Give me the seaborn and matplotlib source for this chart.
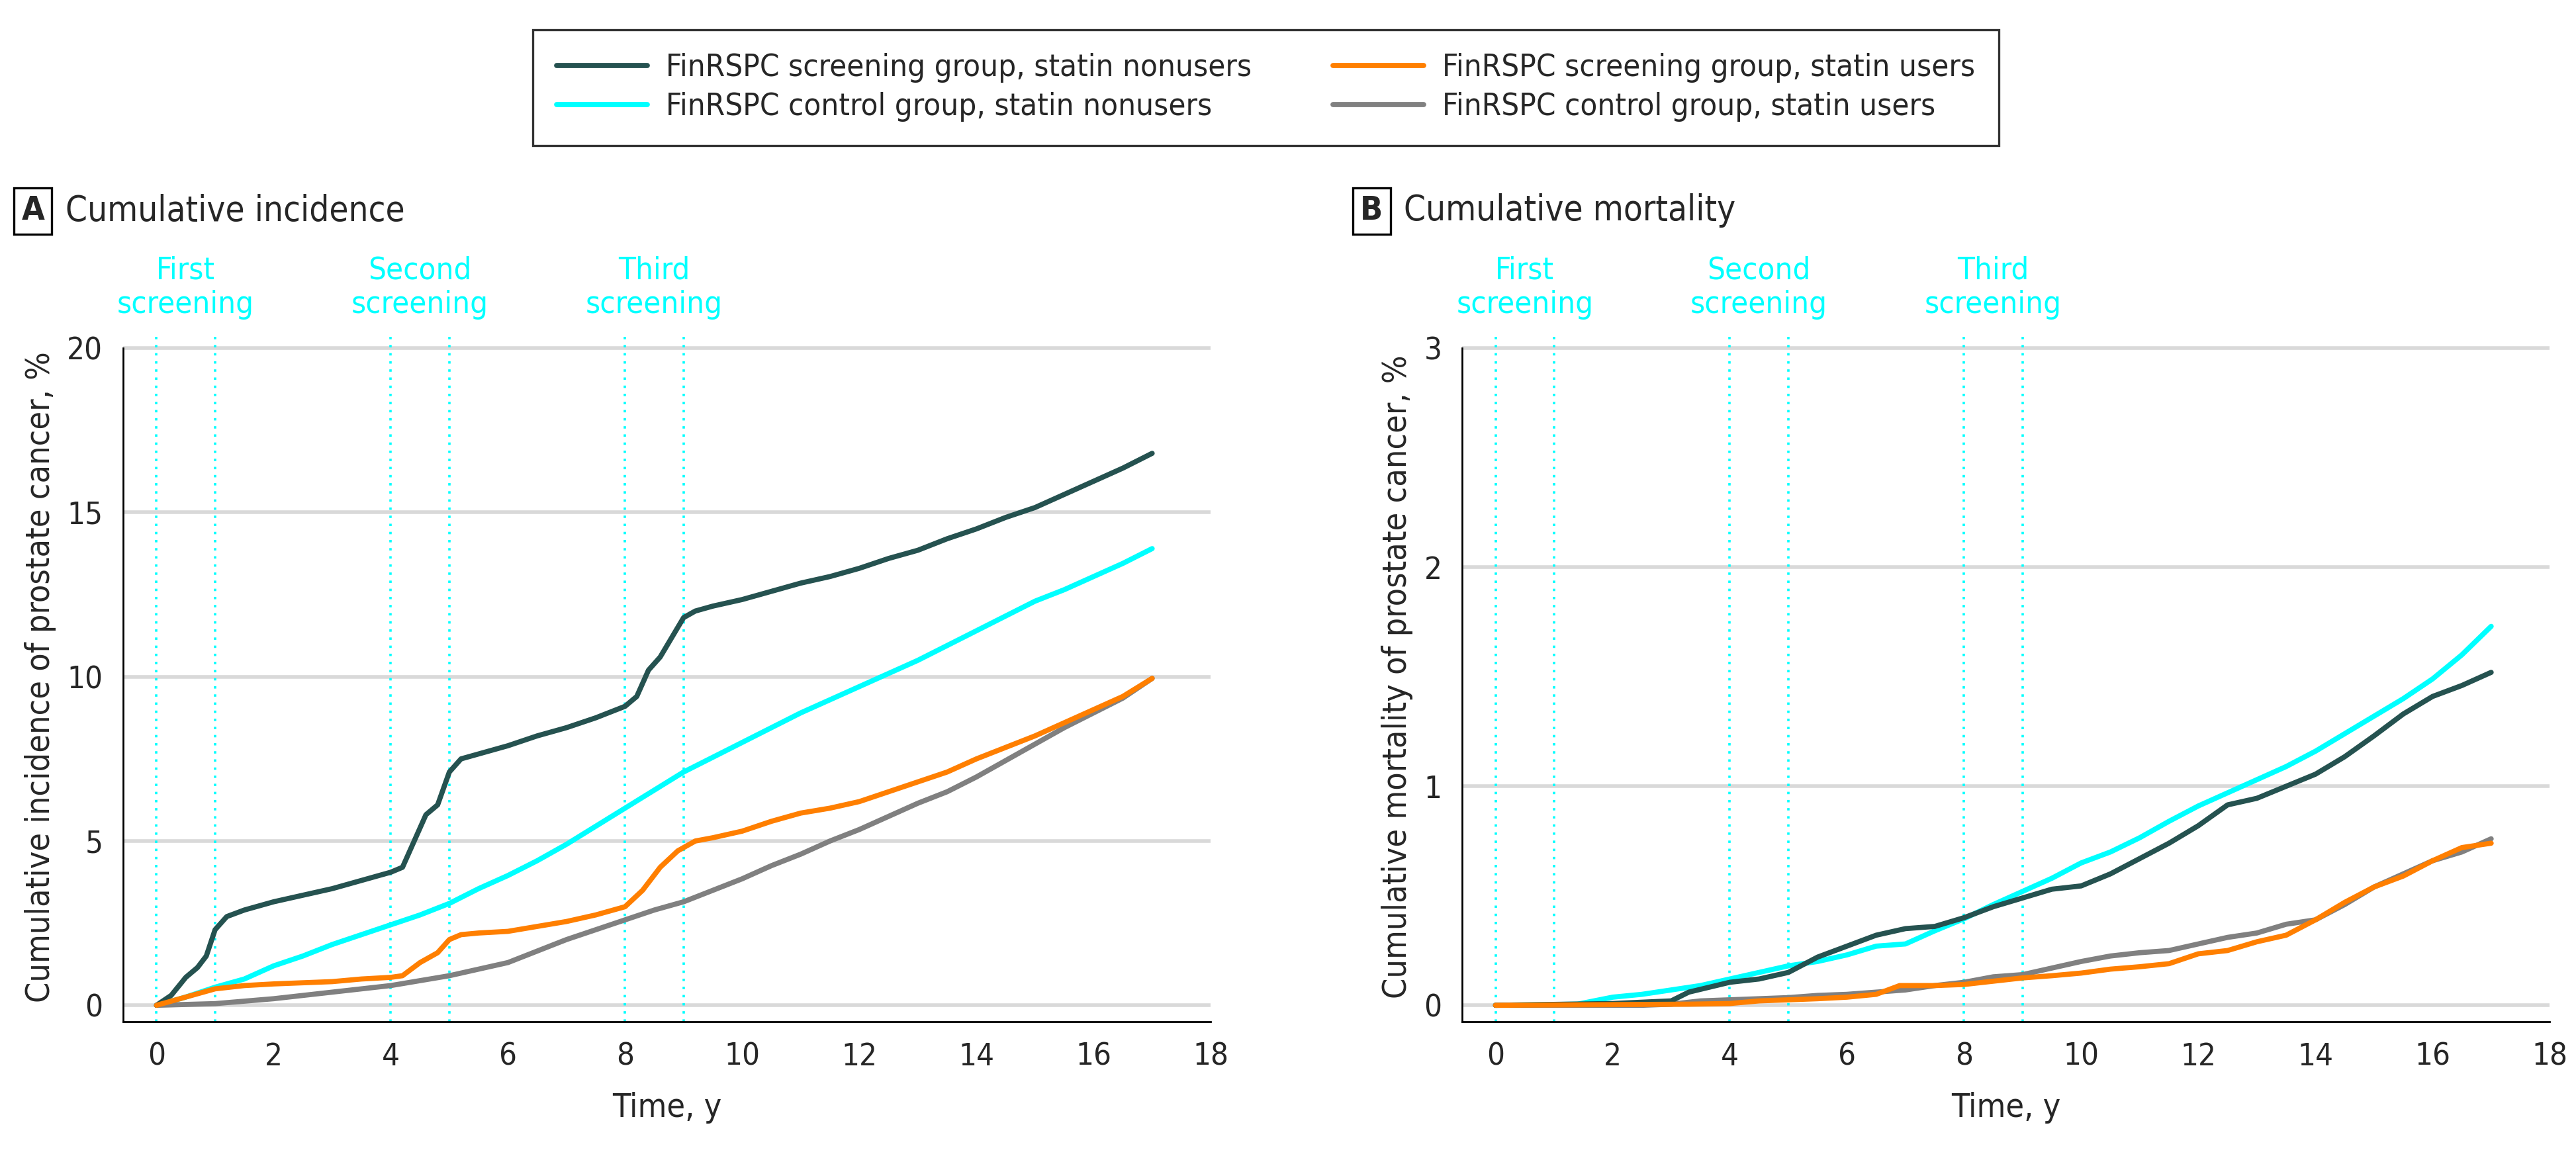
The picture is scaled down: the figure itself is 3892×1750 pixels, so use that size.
#%% Imports
import numpy as np
import pandas as pd
import matplotlib
matplotlib.use("Agg")
import matplotlib.pyplot as plt
import matplotlib.transforms as mtransforms
from matplotlib import font_manager
import seaborn as sns

#%% Data
# panel A, cumulative incidence (%)
t_scr_non_A = [0, 0.25, 0.5, 0.7, 0.85, 1.0, 1.2, 1.5, 2, 2.5, 3, 3.5, 4, 4.2, 4.4, 4.6, 4.8, 5.0, 5.2, 5.5,
               6, 6.5, 7, 7.5, 8, 8.2, 8.4, 8.6, 8.8, 9, 9.2, 9.5, 10, 10.5, 11, 11.5, 12, 12.5, 13,
               13.5, 14, 14.5, 15, 15.5, 16, 16.5, 17]
v_scr_non_A = [0, 0.3, 0.85, 1.15, 1.5, 2.3, 2.7, 2.9, 3.15, 3.35, 3.55, 3.8, 4.05, 4.2, 5.0, 5.8, 6.1, 7.1, 7.5, 7.65,
               7.9, 8.2, 8.45, 8.75, 9.1, 9.4, 10.2, 10.6, 11.2, 11.8, 12.0, 12.15, 12.35, 12.6, 12.85, 13.05, 13.3, 13.6, 13.85,
               14.2, 14.5, 14.85, 15.15, 15.55, 15.95, 16.35, 16.8]

t_ctl_non_A = [0, 0.5, 1, 1.5, 2, 2.5, 3, 3.5, 4, 4.5, 5, 5.5, 6, 6.5, 7, 7.5, 8, 8.5, 9, 9.5, 10,
               10.5, 11, 11.5, 12, 12.5, 13, 13.5, 14, 14.5, 15, 15.5, 16, 16.5, 17]
v_ctl_non_A = [0, 0.25, 0.55, 0.8, 1.2, 1.5, 1.85, 2.15, 2.45, 2.75, 3.1, 3.55, 3.95, 4.4, 4.9, 5.45, 6.0, 6.55, 7.1, 7.55, 8.0,
               8.45, 8.9, 9.3, 9.7, 10.1, 10.5, 10.95, 11.4, 11.85, 12.3, 12.65, 13.05, 13.45, 13.9]

t_scr_usr_A = [0, 0.5, 1, 1.5, 2, 3, 3.5, 4, 4.2, 4.5, 4.8, 5.0, 5.2, 5.5, 6, 6.5, 7, 7.5, 8, 8.3, 8.6, 8.9,
               9.2, 9.5, 10, 10.5, 11, 11.5, 12, 12.5, 13, 13.5, 14, 14.5, 15, 15.5, 16, 16.5, 17]
v_scr_usr_A = [0, 0.25, 0.5, 0.6, 0.65, 0.72, 0.8, 0.85, 0.9, 1.3, 1.6, 2.0, 2.15, 2.2, 2.25, 2.4, 2.55, 2.75, 3.0, 3.5, 4.2, 4.7,
               5.0, 5.1, 5.3, 5.6, 5.85, 6.0, 6.2, 6.5, 6.8, 7.1, 7.5, 7.85, 8.2, 8.6, 9.0, 9.4, 9.95]

t_ctl_usr_A = [0, 1, 2, 3, 4, 5, 5.5, 6, 6.5, 7, 7.5, 8, 8.5, 9, 9.5, 10, 10.5, 11, 11.5, 12, 12.5,
               13, 13.5, 14, 14.5, 15, 15.5, 16, 16.5, 17]
v_ctl_usr_A = [0, 0.05, 0.2, 0.4, 0.6, 0.9, 1.1, 1.3, 1.65, 2.0, 2.3, 2.6, 2.9, 3.15, 3.5, 3.85, 4.25, 4.6, 5.0, 5.35, 5.75,
               6.15, 6.5, 6.95, 7.45, 7.95, 8.45, 8.9, 9.35, 9.95]

# panel B, cumulative mortality (%)
t_scr_non_B = [0, 2, 3, 3.3, 4, 4.5, 5, 5.5, 6, 6.5, 7, 7.5, 8, 8.5, 9, 9.5, 10, 10.5, 11, 11.5, 12,
               12.5, 13, 13.5, 14, 14.5, 15, 15.5, 16, 16.5, 17]
v_scr_non_B = [0, 0.008, 0.02, 0.06, 0.105, 0.12, 0.15, 0.22, 0.27, 0.32, 0.35, 0.36, 0.40, 0.45, 0.49, 0.53, 0.545, 0.60, 0.67, 0.74, 0.82,
               0.915, 0.945, 1.0, 1.055, 1.135, 1.23, 1.33, 1.41, 1.46, 1.52]

t_ctl_non_B = [0, 1.4, 2, 2.5, 3, 3.5, 4, 4.5, 5, 5.5, 6, 6.5, 7, 7.5, 8, 8.5, 9, 9.5, 10, 10.5, 11,
               11.5, 12, 12.5, 13, 13.5, 14, 14.5, 15, 15.5, 16, 16.5, 17]
v_ctl_non_B = [0, 0.005, 0.037, 0.05, 0.07, 0.09, 0.12, 0.15, 0.18, 0.2, 0.23, 0.27, 0.28, 0.34, 0.395, 0.46, 0.52, 0.58, 0.65, 0.70, 0.765,
               0.84, 0.91, 0.97, 1.03, 1.09, 1.16, 1.24, 1.32, 1.40, 1.49, 1.60, 1.73]

t_scr_usr_B = [0, 3.3, 4, 4.5, 5, 5.5, 6, 6.5, 6.9, 7.5, 8, 8.5, 9, 9.5, 10, 10.5, 11, 11.5, 12, 12.5,
               13, 13.5, 14, 14.5, 15, 15.5, 16, 16.5, 17]
v_scr_usr_B = [0, 0.005, 0.008, 0.02, 0.025, 0.03, 0.037, 0.05, 0.09, 0.09, 0.095, 0.11, 0.125, 0.135, 0.147, 0.165, 0.176, 0.19, 0.235, 0.25,
               0.29, 0.32, 0.39, 0.47, 0.54, 0.59, 0.66, 0.72, 0.74]

t_ctl_usr_B = [0, 2.5, 3, 3.5, 4, 4.5, 5, 5.5, 6, 6.5, 7, 7.5, 8, 8.5, 9, 9.5, 10, 10.5, 11, 11.5, 12,
               12.5, 13, 13.5, 14, 14.5, 15, 15.5, 16, 16.5, 17]
v_ctl_usr_B = [0, 0, 0.005, 0.02, 0.025, 0.03, 0.035, 0.045, 0.05, 0.06, 0.07, 0.09, 0.105, 0.13, 0.14, 0.17, 0.2, 0.225, 0.24, 0.25, 0.28,
               0.31, 0.33, 0.37, 0.39, 0.46, 0.54, 0.6, 0.66, 0.7, 0.76]

groups = ["FinRSPC screening group, statin nonusers",
          "FinRSPC control group, statin nonusers",
          "FinRSPC screening group, statin users",
          "FinRSPC control group, statin users"]
colors = {groups[0]: "#255250", groups[1]: "#00ffff", groups[2]: "#ff7f00", groups[3]: "#808080"}
draw_order = [groups[1], groups[3], groups[0], groups[2]]

screen_times = [0, 1, 4, 5, 8, 9]
screen_labels = ["First\nscreening", "Second\nscreening", "Third\nscreening"]
screen_label_x = [0.5, 4.5, 8.5]


def make_df(series):
    frames = []
    for g, (t, v) in zip(groups, series):
        frames.append(pd.DataFrame({"time": t, "value": v, "group": g}))
    return pd.concat(frames, ignore_index=True)


df_A = make_df([(t_scr_non_A, v_scr_non_A), (t_ctl_non_A, v_ctl_non_A),
                (t_scr_usr_A, v_scr_usr_A), (t_ctl_usr_A, v_ctl_usr_A)])
df_B = make_df([(t_scr_non_B, v_scr_non_B), (t_ctl_non_B, v_ctl_non_B),
                (t_scr_usr_B, v_scr_usr_B), (t_ctl_usr_B, v_ctl_usr_B)])

#%% Plot
sns.set_style("white")
# narrow look: use the condensed DejaVu face if it is there
cond = [f for f in font_manager.fontManager.ttflist if f.name == "DejaVu Sans" and "ondensed" in f.fname]
plt.rcParams['font.family'] = ['DejaVu Sans']
if cond:
    plt.rcParams['font.stretch'] = 'condensed'
FS = 17

fig = plt.figure(figsize=(19.46, 8.75), dpi=200)
ax_A = fig.add_axes([0.0478, 0.1177, 0.4222, 0.5958])
ax_B = fig.add_axes([0.5676, 0.1177, 0.4222, 0.5958])

panels = [(ax_A, df_A, (-0.5, 20.5), [0, 5, 10, 15, 20], "Cumulative incidence of prostate cancer, %"),
          (ax_B, df_B, (-0.075, 3.075), [0, 1, 2, 3], "Cumulative mortality of prostate cancer, %")]

for ax, df, ylim, yticks, ylab in panels:
    for yt in yticks:
        ax.axhline(yt, color="#d9d9d9", lw=2.0, zorder=0)
    for st in screen_times:
        ax.plot([st, st], [ylim[0], ylim[1]], color="#00ffff", lw=1.3, ls=(0, (1, 2.4)), zorder=1, clip_on=False)
    for g in draw_order:
        sub = df[df["group"] == g]
        sns.lineplot(data=sub, x="time", y="value", color=colors[g], lw=2.8, label=g, ax=ax,
                     estimator=None, sort=False, zorder=3)
    ax.set_xlim(-0.57, 18)
    ax.set_ylim(*ylim)
    ax.set_xticks(range(0, 19, 2))
    ax.set_yticks(yticks)
    ax.set_xlabel("Time, y", fontsize=FS + 1, labelpad=11)
    ax.set_ylabel(ylab, fontsize=FS + 1, labelpad=6)
    ax.tick_params(axis="both", direction="out", length=6, width=1.0, color="black", labelsize=FS, pad=5)
    for s in ["top", "right"]:
        ax.spines[s].set_visible(False)
    ax.spines["left"].set_bounds(ylim[0], yticks[-1])
    for s in ["left", "bottom"]:
        ax.spines[s].set_color("black")
        ax.spines[s].set_linewidth(1.0)
    trans = mtransforms.blended_transform_factory(ax.transData, ax.transAxes)
    for lx, lab in zip(screen_label_x, screen_labels):
        ax.text(lx, 1.064, lab, transform=trans, ha="center", va="center", color="#00ffff",
                fontsize=FS, linespacing=1.2, clip_on=False)
    ax.get_legend().remove()

# legend in the order of the reference
handles, labels = ax_A.get_legend_handles_labels()
hmap = dict(zip(labels, handles))
leg = fig.legend([hmap[g] for g in groups], groups, loc="upper center", bbox_to_anchor=(0.4914, 0.9745),
                 ncol=2, fontsize=FS, frameon=True, fancybox=False, edgecolor="black", borderaxespad=0,
                 handlelength=2.9, handletextpad=0.6, columnspacing=2.6, borderpad=0.75, labelspacing=0.3)
leg.get_frame().set_linewidth(1.2)

# panel labels
for px, tx, letter, title in [(0.0128, 0.0255, "A", "Cumulative incidence"), (0.5325, 0.545, "B", "Cumulative mortality")]:
    fig.text(px, 0.818, letter, fontsize=FS + 1, fontweight="bold", ha="center", va="center",
             bbox=dict(boxstyle="square,pad=0.22", fc="white", ec="black", lw=1.2))
    fig.text(tx, 0.818, title, fontsize=FS + 2, ha="left", va="center")

plt.savefig("out.png", dpi=200)
